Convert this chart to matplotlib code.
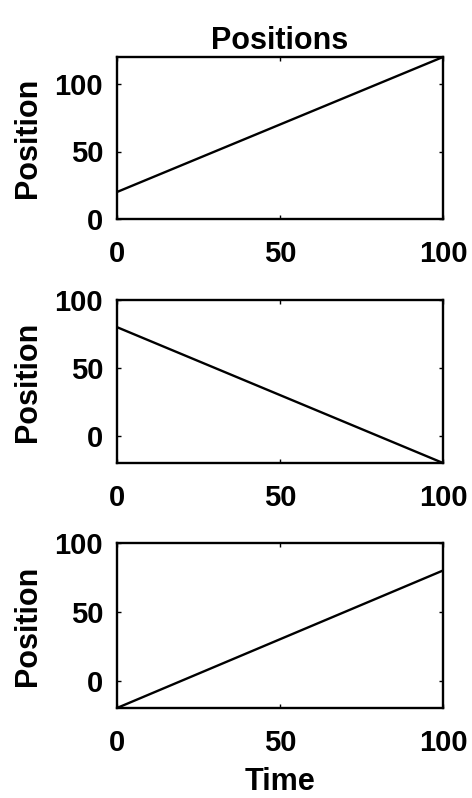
import numpy as np
import matplotlib
matplotlib.use("Agg")
import matplotlib.pyplot as plt

plt.rcParams['font.family'] = ['Liberation Sans', 'DejaVu Sans']
plt.rcParams['font.weight'] = 'bold'
plt.rcParams['font.size'] = 21

time = [0, 100]
pos_top = [20, 120]
pos_mid = [80, -20]
pos_bot = [-20, 80]

ylims = [(0, 120), (-20, 100), (-20, 100)]
series = [pos_top, pos_mid, pos_bot]

fig = plt.figure(figsize=(4.72, 7.98), dpi=100)
W, H = 472, 798
# axes boxes in pixels: left, top, right, bottom
boxes = [(117, 57, 443, 219), (117, 300, 443, 463), (117, 543, 443, 708)]

for i, (box, y, yl) in enumerate(zip(boxes, series, ylims)):
    l, t, r, b = box
    ax = fig.add_axes([l / W, 1 - b / H, (r - l) / W, (b - t) / H])
    ax.plot(time, y, color='black', lw=1.7)
    ax.set_xlim(0, 100)
    ax.set_ylim(*yl)
    ax.set_xticks([0, 50, 100])
    ax.set_yticks([0, 50, 100])
    ax.tick_params(direction='in', length=3, width=1, top=True, right=True)
    ax.tick_params(axis='x', pad=15)
    ax.tick_params(axis='y', pad=10)
    for s in ax.spines.values():
        s.set_linewidth(1.7)
    ax.set_ylabel('Position', fontweight='bold', fontsize=22, labelpad=8)
    for lab in ax.get_xticklabels() + ax.get_yticklabels():
        lab.set_fontweight('bold')
    if i == 0:
        ax.set_title('Positions', fontweight='bold', fontsize=22, pad=6)
    if i == 2:
        ax.set_xlabel('Time', fontweight='bold', fontsize=22, labelpad=7)

fig.savefig('out.png', dpi=100)
